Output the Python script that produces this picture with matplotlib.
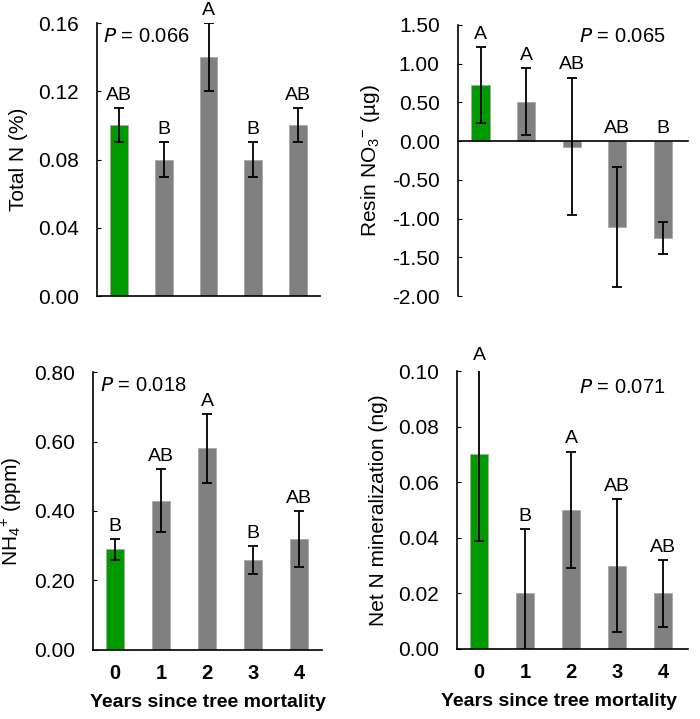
import matplotlib
matplotlib.use("Agg")
import matplotlib.pyplot as plt
from matplotlib.ticker import FormatStrFormatter

plt.rcParams['font.family'] = ['Liberation Sans', 'DejaVu Sans']
plt.rcParams['mathtext.default'] = 'regular'

years = [0, 1, 2, 3, 4]
xlabels = ['0', '1', '2', '3', '4']

total_n = [0.10, 0.08, 0.14, 0.08, 0.10]
total_n_err = [0.01, 0.01, 0.02, 0.01, 0.01]
total_n_grp = ['AB', 'B', 'A', 'B', 'AB']

resin_no3 = [0.72, 0.51, -0.07, -1.11, -1.25]
resin_no3_err = [0.49, 0.43, 0.89, 0.77, 0.21]
resin_no3_grp = ['A', 'A', 'AB', 'AB', 'B']

nh4 = [0.29, 0.43, 0.58, 0.26, 0.32]
nh4_err = [0.03, 0.09, 0.10, 0.04, 0.08]
nh4_grp = ['B', 'AB', 'A', 'B', 'AB']

net_min = [0.070, 0.020, 0.050, 0.030, 0.020]
net_min_err = [0.031, 0.023, 0.021, 0.024, 0.012]
net_min_grp = ['A', 'B', 'A', 'AB', 'AB']

colors = ['#009a00', '#808080', '#808080', '#808080', '#808080']

panels = [
    # values, errors, letters, ylabel, ylim, yticks, P text, P pos, ax rect, xlim
    (total_n, total_n_err, total_n_grp, 'Total N (%)', (0, 0.16),
     [0, 0.04, 0.08, 0.12, 0.16], '$\\it{P}$ = 0.066', (0.027, 0.95),
     [0.1386, 0.5883, 0.3186, 0.3797], (-0.5, 4.5)),
    (resin_no3, resin_no3_err, resin_no3_grp, 'Resin NO$_3$$^{-}$ (µg)', (-2.0, 1.5),
     [-2.0, -1.5, -1.0, -0.5, 0.0, 0.5, 1.0, 1.5], '$\\it{P}$ = 0.065', (0.526, 0.956),
     [0.654, 0.5883, 0.3286, 0.377], (-0.5, 4.55)),
    (nh4, nh4_err, nh4_grp, 'NH$_4$$^{+}$ (ppm)', (0, 0.8),
     [0, 0.2, 0.4, 0.6, 0.8], '$\\it{P}$ = 0.018', (0.03, 0.953),
     [0.133, 0.096, 0.327, 0.3866], (-0.48, 4.5)),
    (net_min, net_min_err, net_min_grp, 'Net N mineralization (ng)', (0, 0.1),
     [0, 0.02, 0.04, 0.06, 0.08, 0.10], '$\\it{P}$ = 0.071', (0.528, 0.942),
     [0.653, 0.0974, 0.33, 0.3866], (-0.48, 4.54)),
]

fig = plt.figure(figsize=(7.0, 7.19), dpi=100)

for i, (vals, errs, grps, ylab, ylim, yticks, ptxt, ppos, rect, xlim) in enumerate(panels):
    ax = fig.add_axes(rect)
    ax.bar(years, vals, width=0.4, color=colors, edgecolor='#a8a8a8', linewidth=0.6)
    ax.errorbar(years, vals, yerr=errs, fmt='none', ecolor='black',
                elinewidth=1.3, capsize=3.5, capthick=1.3)
    ax.set_xlim(*xlim)
    ax.set_ylim(*ylim)
    ax.set_yticks(yticks)
    ax.yaxis.set_major_formatter(FormatStrFormatter('%.2f'))
    ax.tick_params(axis='y', direction='in', length=3, labelsize=15, pad=13)
    ax.spines['top'].set_visible(False)
    ax.spines['right'].set_visible(False)
    ax.spines['left'].set_linewidth(1.2)
    ax.spines['bottom'].set_linewidth(1.2)
    ax.set_ylabel(ylab, fontsize=15, labelpad=7)
    ax.text(ppos[0], ppos[1], ptxt, transform=ax.transAxes, fontsize=14.5,
            ha='left', va='center')

    for x, v, e, g in zip(years, vals, errs, grps):
        base = max(v + e, 0)
        ax.annotate(g, (x, base), xytext=(0, 3), textcoords='offset points',
                    ha='center', va='bottom', fontsize=14, annotation_clip=False)

    if i == 1:
        ax.spines['bottom'].set_position(('data', 0))
    if i < 2:
        ax.set_xticks([])
    else:
        ax.set_xticks(years)
        ax.set_xticklabels(xlabels, fontsize=14.5, fontweight='bold')
        ax.tick_params(axis='x', length=0, pad=10)
        ax.set_xlabel('Years since tree mortality', fontsize=14,
                      fontweight='bold', labelpad=8)
        if i == 3:
            # the right-hand axis title sits a little left of centre
            ax.xaxis.label.set_x(0.44)

fig.savefig('out.png', dpi=100)
